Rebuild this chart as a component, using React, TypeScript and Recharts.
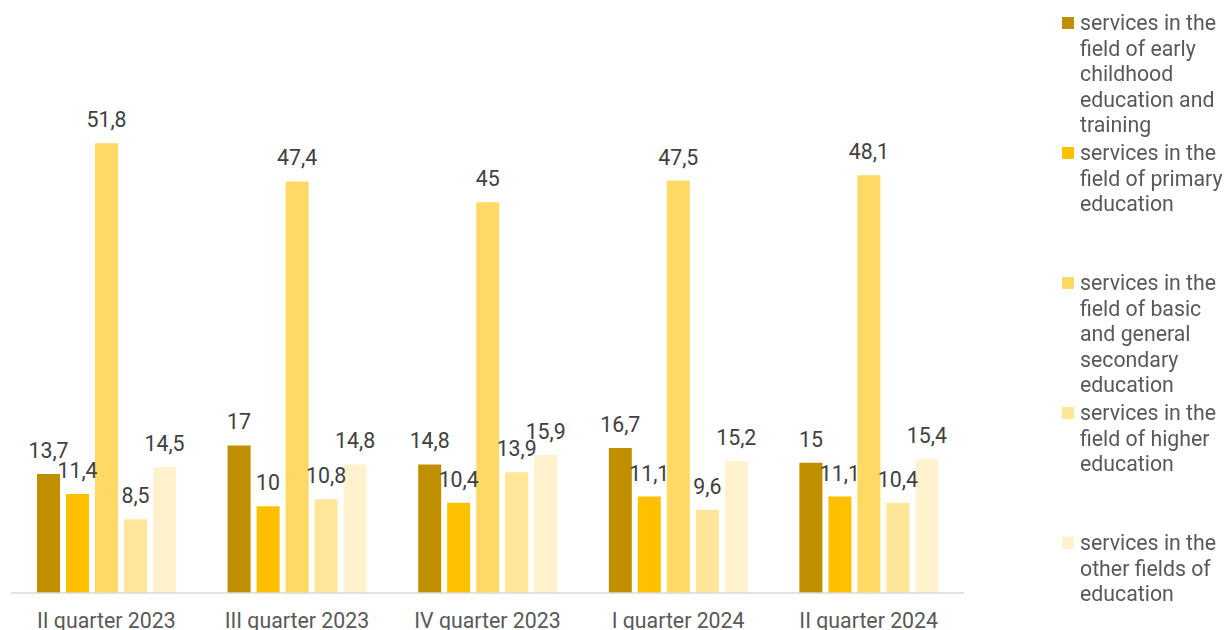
import { BarChart, Bar, XAxis, YAxis, LabelList, Legend } from "recharts";

const quarters = ["II quarter 2023", "III quarter 2023", "IV quarter 2023", "I quarter 2024", "II quarter 2024"];
const earlyChildhood = [13.7, 17, 14.8, 16.7, 15];
const primary = [11.4, 10, 10.4, 11.1, 11.1];
const basicSecondary = [51.8, 47.4, 45, 47.5, 48.1];
const higher = [8.5, 10.8, 13.9, 9.6, 10.4];
const otherFields = [14.5, 14.8, 15.9, 15.2, 15.4];

const seriesNames = [
  "services in the field of early childhood education and training",
  "services in the field of primary education",
  "services in the field of basic and general secondary education",
  "services in the field of higher education",
  "services in the other fields of education",
];
const seriesKeys = ["early", "primary", "basic", "higher", "other"];
const colors = ["#BF8F00", "#FFC000", "#FFD966", "#FFE699", "#FFF2CC"];

const data = quarters.map((q, i) => ({
  quarter: q,
  early: earlyChildhood[i],
  primary: primary[i],
  basic: basicSecondary[i],
  higher: higher[i],
  other: otherFields[i],
}));

const FONT = "Roboto, sans-serif";
const FS = 21.3;
const fmt = (v: any) => String(v).replace(".", ",");

function LegendBox() {
  return (
    <div style={{ fontFamily: FONT, fontSize: FS, color: "#595959", lineHeight: "25.5px" }}>
      {seriesNames.map((name, i) => (
        <div key={name} style={{ height: 130, display: "flex", alignItems: "flex-start" }}>
          <span
            style={{
              width: 12,
              height: 12,
              background: colors[i],
              marginTop: 7,
              marginRight: 6,
              flexShrink: 0,
            }}
          />
          <span style={{ width: 150 }}>{name}</span>
        </div>
      ))}
    </div>
  );
}

export default function App() {
  return (
    <div style={{ position: "fixed", left: 0, top: 0, width: 1224, height: 630, background: "#fff" }}>
      <BarChart
        width={1224}
        height={630}
        data={data}
        margin={{ top: 72, right: 260, left: 11, bottom: 0 }}
        barSize={23}
        barGap={6}
      >
        <XAxis
          dataKey="quarter"
          height={37}
          tickLine={false}
          tickSize={0}
          tickMargin={20}
          axisLine={{ stroke: "#D9D9D9", strokeWidth: 1.5 }}
          tick={{ fill: "#595959", fontSize: FS, fontFamily: FONT }}
          interval={0}
        />
        <YAxis hide domain={[0, 60]} />
        <Legend
          layout="vertical"
          align="center"
          verticalAlign="middle"
          wrapperStyle={{ left: 1062, top: 10, width: 165, height: 620 }}
          content={() => <LegendBox />}
        />
        {seriesKeys.map((k, i) => (
          <Bar key={k} dataKey={k} name={seriesNames[i]} fill={colors[i]} isAnimationActive={false}>
            <LabelList
              dataKey={k}
              position="top"
              offset={16}
              formatter={fmt}
              fill="#404040"
              fontSize={FS}
              fontFamily={FONT}
            />
          </Bar>
        ))}
      </BarChart>
    </div>
  );
}
